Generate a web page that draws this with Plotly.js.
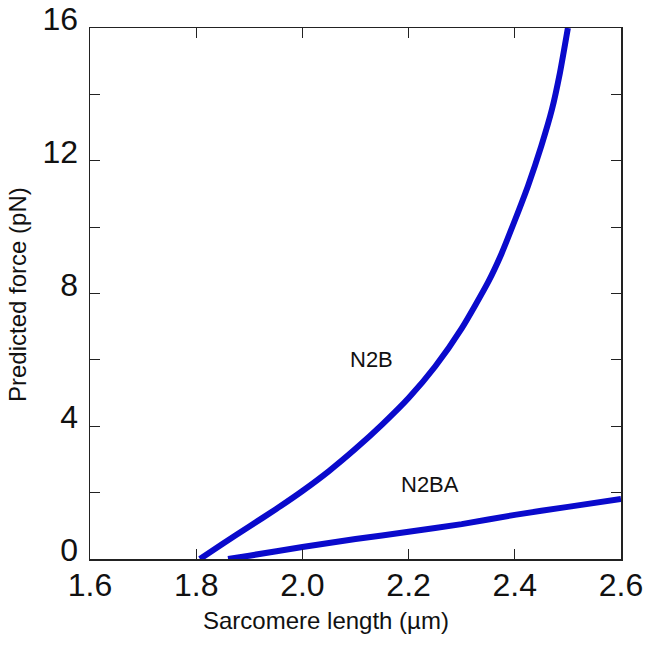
<!DOCTYPE html>
<html>
<head>
<meta charset="utf-8">
<script src="https://cdn.plot.ly/plotly-3.0.1.min.js"></script>
<style>html,body{margin:0;padding:0;background:#fff;}</style>
</head>
<body>
<div id="chart" style="width:651px;height:645px;"></div>
<script>
// N2B curve (sarcomere length in µm, force in pN)
const n2bX = [1.807, 1.85, 1.90, 1.95, 2.00, 2.05, 2.10, 2.15, 2.20, 2.25, 2.30, 2.35, 2.375, 2.40, 2.425, 2.45, 2.47, 2.485, 2.50];
const n2bY = [0.0, 0.46, 0.98, 1.5, 2.05, 2.65, 3.32, 4.05, 4.85, 5.8, 6.95, 8.35, 9.2, 10.2, 11.25, 12.45, 13.55, 14.65, 16.0];
// N2BA curve
const n2baX = [1.86, 1.90, 2.00, 2.10, 2.20, 2.30, 2.40, 2.50, 2.60];
const n2baY = [0.0, 0.1, 0.36, 0.6, 0.82, 1.05, 1.33, 1.57, 1.81];
// Axis ticks
const xTickVals = [1.6, 1.8, 2.0, 2.2, 2.4, 2.6];
const xTickText = ['1.6', '1.8', '2.0', '2.2', '2.4', '2.6'];
const yTickVals = [0, 2, 4, 6, 8, 10, 12, 14, 16];
const yTickText = ['0', '', '4', '', '8', '', '12', '', '16'];
// Labels
const curveLabels = ['N2B', 'N2BA'];
const labelX = [2.130, 2.241];
const labelY = [6.0, 2.26];
const xTitle = 'Sarcomere length (µm)';
const yTitle = 'Predicted force (pN)';

const font = 'Liberation Sans, Arial, Helvetica, sans-serif';
const blue = '#0a0acc';

const traces = [
  {x: n2bX, y: n2bY, mode: 'lines', name: 'N2B', line: {color: blue, width: 6, shape: 'spline', smoothing: 0.6}, hoverinfo: 'skip'},
  {x: n2baX, y: n2baY, mode: 'lines', name: 'N2BA', line: {color: blue, width: 6, shape: 'spline', smoothing: 0.6}, hoverinfo: 'skip'}
];

const annotations = curveLabels.map((t, i) => ({
  x: labelX[i], y: labelY[i], xref: 'x', yref: 'y', text: t, showarrow: false,
  font: {family: font, size: 22, color: '#111'}, xanchor: 'center', yanchor: 'middle'
}));
annotations.push({
  x: (325.5 - 90) / 531, y: -(620 - 559) / 531, xref: 'paper', yref: 'paper', text: xTitle,
  showarrow: false, font: {family: font, size: 24, color: '#111'}, xanchor: 'center', yanchor: 'middle'
});
annotations.push({
  x: (18 - 90) / 531, y: (559 - 295) / 531, xref: 'paper', yref: 'paper', text: yTitle,
  showarrow: false, textangle: -90, font: {family: font, size: 24, color: '#111'}, xanchor: 'center', yanchor: 'middle'
});

const axisCommon = {
  showline: true, linecolor: '#222', linewidth: 1.5, mirror: 'ticks',
  ticks: 'inside', ticklen: 10, tickwidth: 1.2, tickcolor: '#222',
  showgrid: false, zeroline: false,
  tickfont: {family: font, size: 32, color: '#111'}
};

const layout = {
  width: 651, height: 645,
  margin: {l: 90, r: 30, t: 28, b: 86},
  paper_bgcolor: '#fff', plot_bgcolor: '#fff',
  showlegend: false,
  xaxis: Object.assign({}, axisCommon, {range: [1.6, 2.6], tickvals: xTickVals, ticktext: xTickText, ticklabelstandoff: -3}),
  yaxis: Object.assign({}, axisCommon, {range: [0, 16], tickvals: yTickVals, ticktext: yTickText, ticklabelshift: -9, ticklabelstandoff: 4}),
  annotations: annotations
};

Plotly.newPlot('chart', traces, layout, {displayModeBar: false, staticPlot: true});
</script>
</body>
</html>
